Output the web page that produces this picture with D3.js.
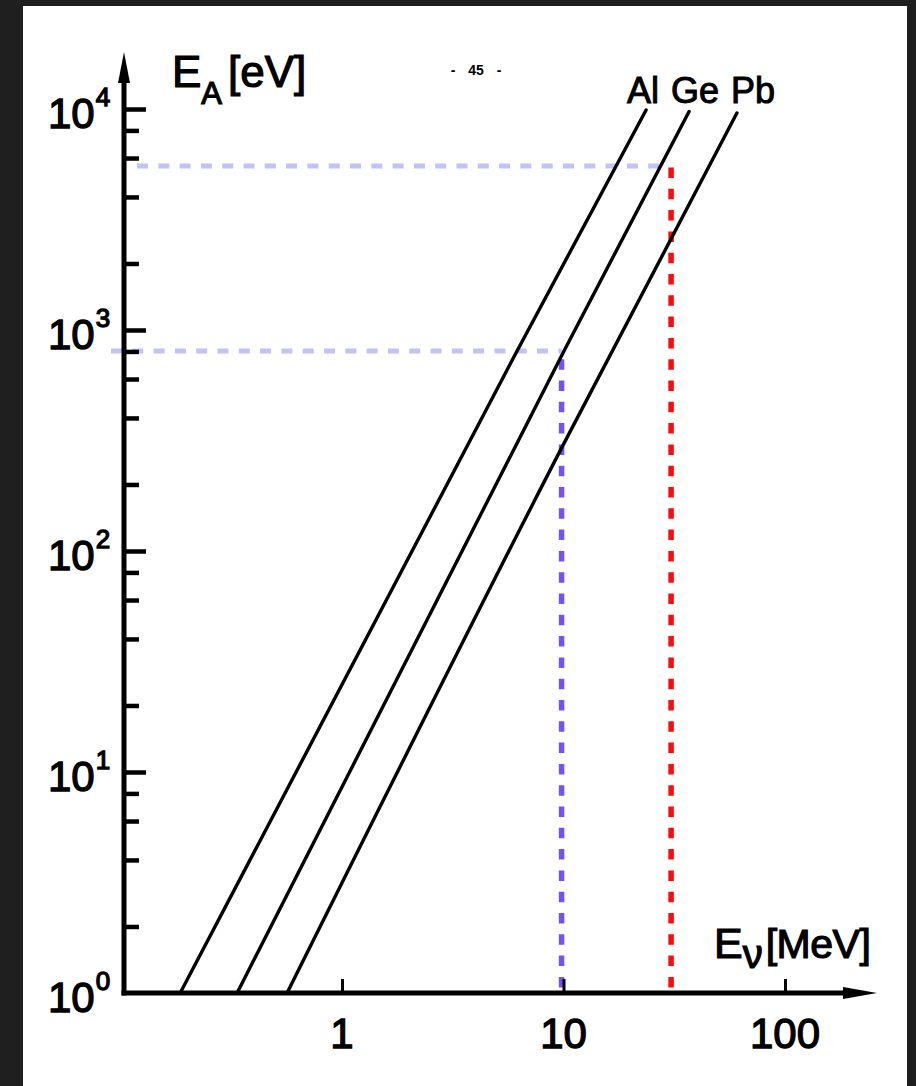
<!DOCTYPE html>
<html>
<head>
<meta charset="utf-8">
<script src="https://cdn.jsdelivr.net/npm/d3@7"></script>
<style>
  html, body { margin: 0; padding: 0; background: #1f1f1f; }
  svg { display: block; }
  text { font-family: "Liberation Sans", Arial, sans-serif; fill: #000; }
</style>
</head>
<body>
<script>
// ---- data ----
const seriesNames = ["Al", "Ge", "Pb"];
const alEnu = [0.186, 6.17, 23.6];
const alEA  = [1, 804, 9900];
const geEnu = [0.336, 10.05, 36.9];
const geEA  = [1, 804, 9750];
const pbEnu = [0.565, 9.74, 60.7];
const pbEA  = [1, 289, 9600];

const xTickValues = [1, 10, 100];
const xTickLabels = ["1", "10", "100"];
const yMajorValues = [1, 10, 100, 1000, 10000];
const yMajorExponents = ["0", "1", "2", "3", "4"];
const yMinorMultipliers = [2, 4, 6, 8];

// guide lines (values): horizontal E_A levels and vertical E_nu levels
const hGuideEA  = [5520, 804];
const hGuideFrom = [0.1187, 0.0906];
const hGuideTo   = [27.3, 9.8];
const vGuideEnu  = [9.8, 30.6];
const vGuideFrom = [1.06, 1.06];
const vGuideTo   = [804, 5520];

const pageLabel = "- 45 -";

// ---- drawing ----
const W = 916, H = 1086;
const svg = d3.select("body").append("svg").attr("width", W).attr("height", H);

// scanned page area
svg.append("rect").attr("x", 0).attr("y", 0).attr("width", W).attr("height", H).attr("fill", "#1f1f1f");
svg.append("rect").attr("x", 23).attr("y", 6).attr("width", 884).attr("height", H - 6).attr("fill", "#ffffff");

const x = d3.scaleLog().domain([1, 100]).range([342, 785]);
const y = d3.scaleLog().domain([1, 10000]).range([993, 109]);

const originX = 124, originY = 993;
const xArrowTip = 877, yArrowTip = 52;

// guides first (under curves)
hGuideEA.forEach((v, i) => {
  svg.append("line")
    .attr("x1", x(hGuideFrom[i])).attr("x2", x(hGuideTo[i]))
    .attr("y1", y(v)).attr("y2", y(v))
    .attr("stroke", "#c2c2fa").attr("stroke-width", 5)
    .attr("stroke-dasharray", "11,10.3");
});
const vColors = ["#7650ff", "#ff0a0a"];
vGuideEnu.forEach((v, i) => {
  svg.append("line")
    .attr("x1", x(v)).attr("x2", x(v))
    .attr("y1", y(vGuideFrom[i])).attr("y2", y(vGuideTo[i]))
    .attr("stroke", vColors[i]).attr("stroke-width", 5.5)
    .attr("stroke-dasharray", "10.5,10.8");
});

// curves
const curves = [
  alEnu.map((e, i) => [e, alEA[i]]),
  geEnu.map((e, i) => [e, geEA[i]]),
  pbEnu.map((e, i) => [e, pbEA[i]])
];
const line = d3.line().x(d => x(d[0])).y(d => y(d[1])).curve(d3.curveMonotoneX);
curves.forEach(c => {
  svg.append("path").attr("d", line(c)).attr("fill", "none")
    .attr("stroke", "#000").attr("stroke-width", 3.4).attr("stroke-linecap", "round");
});

// axes lines
svg.append("line").attr("x1", originX).attr("x2", originX)
  .attr("y1", originY + 2.5).attr("y2", yArrowTip + 20)
  .attr("stroke", "#000").attr("stroke-width", 5);
svg.append("line").attr("x1", originX - 2.5).attr("x2", xArrowTip - 20)
  .attr("y1", originY).attr("y2", originY)
  .attr("stroke", "#000").attr("stroke-width", 5);
// arrowheads
svg.append("path")
  .attr("d", `M${originX},${yArrowTip} L${originX + 6},${yArrowTip + 31} L${originX - 6},${yArrowTip + 31} Z`)
  .attr("fill", "#000");
svg.append("path")
  .attr("d", `M${xArrowTip},${originY} L${xArrowTip - 34},${originY + 6} L${xArrowTip - 34},${originY - 6} Z`)
  .attr("fill", "#000");

// y ticks
const yMinor = [];
yMajorValues.slice(0, -1).forEach(d => yMinorMultipliers.forEach(m => yMinor.push(d * m)));
const gyMinor = svg.append("g").attr("transform", `translate(${originX},0)`)
  .call(d3.axisRight(y).tickValues(yMinor).tickSize(15).tickFormat(""));
const gyMajor = svg.append("g").attr("transform", `translate(${originX},0)`)
  .call(d3.axisRight(y).tickValues(yMajorValues.slice(1)).tickSize(22).tickFormat(""));
[gyMinor, gyMajor].forEach(g => {
  g.select(".domain").remove();
  g.selectAll("line").attr("stroke", "#000").attr("stroke-width", 4.5);
});

// x ticks
const gx = svg.append("g").attr("transform", `translate(0,${originY})`)
  .call(d3.axisTop(x).tickValues(xTickValues).tickSize(14).tickFormat(""));
gx.select(".domain").remove();
gx.selectAll("line").attr("stroke", "#000").attr("stroke-width", 3);

// x tick labels
xTickValues.forEach((v, i) => {
  svg.append("text").attr("x", x(v)).attr("y", 1048)
    .attr("text-anchor", "middle").attr("font-size", 42)
    .attr("stroke", "#000").attr("stroke-width", 1.3)
    .text(xTickLabels[i]);
});

// y tick labels 10^n
yMajorValues.forEach((v, i) => {
  const t = svg.append("text").attr("x", 48).attr("y", y(v) + 19)
    .attr("font-size", 42).attr("stroke", "#000").attr("stroke-width", 1.3);
  t.append("tspan").text("10");
  t.append("tspan").attr("dy", -22).attr("font-size", 26).attr("dx", 1).text(yMajorExponents[i]);
});

// y axis title E_A[eV]
{
  const t = svg.append("text").attr("x", 172).attr("y", 87)
    .attr("font-size", 44).attr("stroke", "#000").attr("stroke-width", 1.2);
  t.append("tspan").text("E");
  t.append("tspan").attr("dy", 17).attr("font-size", 31).text("A");
  t.append("tspan").attr("dy", -17).attr("dx", 6).text("[eV]");
}

// x axis title E_nu[MeV]
{
  const t = svg.append("text").attr("x", 714).attr("y", 958)
    .attr("font-size", 43).attr("stroke", "#000").attr("stroke-width", 1.2);
  t.append("tspan").text("E");
  t.append("tspan").attr("dy", 10).attr("font-size", 40).text("ν");
  t.append("tspan").attr("dy", -10).attr("dx", 3).attr("font-size", 41).attr("letter-spacing", -0.5).text("[MeV]");
}

// series labels
svg.append("text").attr("x", 627).attr("y", 103)
  .attr("font-size", 36).attr("stroke", "#000").attr("stroke-width", 1)
  .attr("word-spacing", 2)
  .text(seriesNames.join(" "));

// page number
svg.append("text").attr("x", 476).attr("y", 75)
  .attr("text-anchor", "middle").attr("font-size", 14).attr("font-weight", "bold")
  .attr("word-spacing", 9)
  .text(pageLabel);
</script>
</body>
</html>
